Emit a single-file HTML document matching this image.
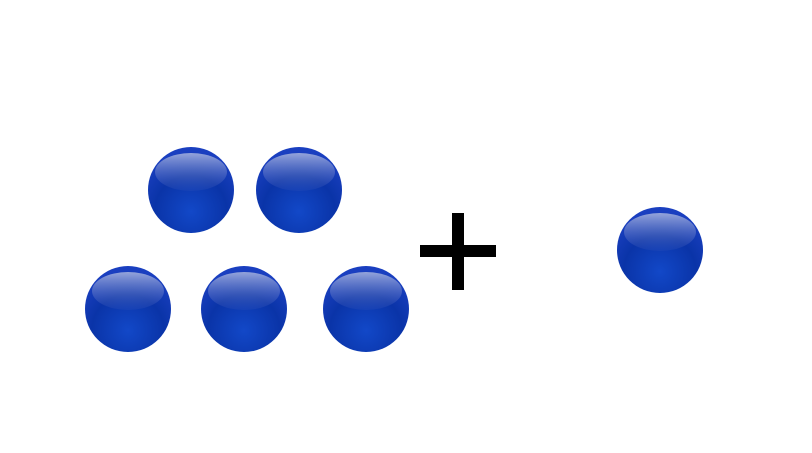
<!DOCTYPE html>
<html><head><meta charset="utf-8"><style>
html,body{margin:0;padding:0;background:#fff;width:812px;height:453px;overflow:hidden}
</style></head><body>
<svg width="812" height="453" viewBox="0 0 812 453">
<defs>
<radialGradient id="body" cx="0.5" cy="0.75" r="0.7">
<stop offset="0" stop-color="#1248c8"/><stop offset="0.6" stop-color="#0a34a8"/><stop offset="1" stop-color="#1a3fc0"/>
</radialGradient>
<linearGradient id="shine" x1="0" y1="0" x2="0" y2="1">
<stop offset="0" stop-color="#aab6e0" stop-opacity="0.85"/><stop offset="1" stop-color="#3a56b8" stop-opacity="0.2"/>
</linearGradient>
</defs>
<g id="balls"></g>
<rect x="420" y="245" width="76" height="12" fill="#000"/>
<rect x="452" y="213" width="12" height="77" fill="#000"/>
</svg>
<script>
const ballX=[191,299,128,244,366,660];
const ballY=[190,190,309,309,309,250];
const g=document.getElementById('balls');
const NS='http://www.w3.org/2000/svg';
for(let i=0;i<ballX.length;i++){
  const x=ballX[i],y=ballY[i];
  const grp=document.createElementNS(NS,'g');
  
  
  const c=document.createElementNS(NS,'circle');
  c.setAttribute('cx',x);c.setAttribute('cy',y);c.setAttribute('r',43);c.setAttribute('fill','url(#body)');
  grp.appendChild(c);
  const e=document.createElementNS(NS,'ellipse');
  e.setAttribute('cx',x);e.setAttribute('cy',y-18);e.setAttribute('rx',36);e.setAttribute('ry',19);e.setAttribute('fill','url(#shine)');
  grp.appendChild(e);
  g.appendChild(grp);
}
</script>
</body></html>
